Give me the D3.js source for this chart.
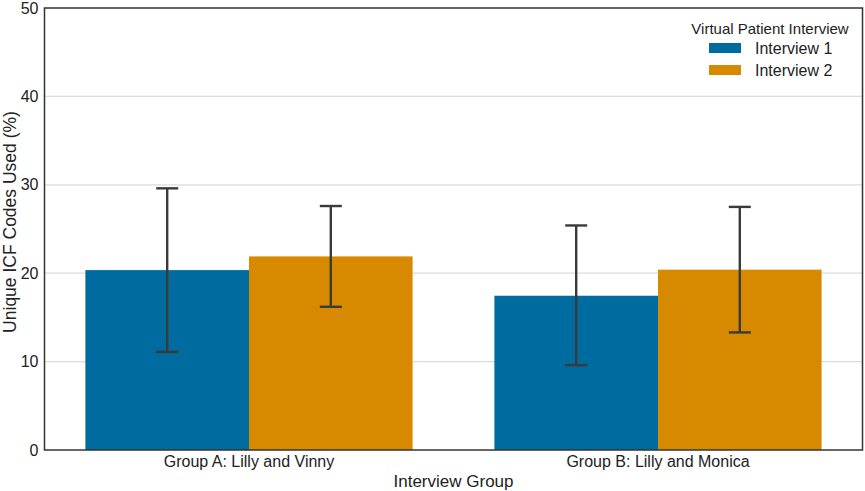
<!DOCTYPE html>
<html>
<head>
<meta charset="utf-8">
<script src="https://cdn.jsdelivr.net/npm/d3@7"></script>
<style>
  body { margin: 0; background: #fff; }
  text { font-family: "Liberation Sans", Arial, sans-serif; fill: #222; }
</style>
</head>
<body>
<div id="chart"></div>
<script>
// data
let groups = ["Group A: Lilly and Vinny", "Group B: Lilly and Monica"];
let seriesNames = ["Interview 1", "Interview 2"];
let interview1 = [20.35, 17.45];
let interview2 = [21.9, 20.4];
let interview1Low = [11.1, 9.6];
let interview1High = [29.6, 25.4];
let interview2Low = [16.2, 13.3];
let interview2High = [27.6, 27.5];
let yTicks = [0, 10, 20, 30, 40, 50];
let colors = ["#006b9e", "#d78a00"];

let svgWidth = 865;
let svgHeight = 491;
let margin = { top: 8, right: 2.5, bottom: 41, left: 44.5 };
let width = svgWidth - margin.left - margin.right;
let height = svgHeight - margin.top - margin.bottom;

let svg = d3.select("#chart").append("svg")
    .attr("width", svgWidth)
    .attr("height", svgHeight);

let chartGroup = svg.append("g")
    .attr("transform", `translate(${margin.left}, ${margin.top})`);

// build rows for drawing
let rows = [];
groups.forEach(function (g, i) {
    rows.push({ group: g, series: seriesNames[0], value: interview1[i], lo: interview1Low[i], hi: interview1High[i], c: colors[0] });
    rows.push({ group: g, series: seriesNames[1], value: interview2[i], lo: interview2Low[i], hi: interview2High[i], c: colors[1] });
});

// scales
let x0 = d3.scaleBand().domain(groups).range([0, width]).paddingInner(0.2).paddingOuter(0.1);
let x1 = d3.scaleBand().domain(seriesNames).range([0, x0.bandwidth()]);
let y = d3.scaleLinear().domain([0, 50]).range([height, 0]);

// gridlines
chartGroup.append("g")
    .selectAll("line")
    .data(yTicks.filter(d => d > 0 && d < 50))
    .enter().append("line")
    .attr("x1", 0).attr("x2", width)
    .attr("y1", d => y(d)).attr("y2", d => y(d))
    .attr("stroke", "#dcdcdc")
    .attr("stroke-width", 1.2);

// bars
chartGroup.selectAll("rect.bar")
    .data(rows)
    .enter().append("rect")
    .attr("class", "bar")
    .attr("x", d => x0(d.group) + x1(d.series))
    .attr("y", d => y(d.value))
    .attr("width", x1.bandwidth())
    .attr("height", d => height - y(d.value))
    .attr("fill", d => d.c);

// error bars
let errGroup = chartGroup.append("g").attr("stroke", "#3a3a3a").attr("stroke-width", 2.4);
rows.forEach(function (d) {
    let cx = x0(d.group) + x1(d.series) + x1.bandwidth() / 2;
    errGroup.append("line").attr("x1", cx).attr("x2", cx).attr("y1", y(d.lo)).attr("y2", y(d.hi));
    errGroup.append("line").attr("x1", cx - 11).attr("x2", cx + 11).attr("y1", y(d.lo)).attr("y2", y(d.lo));
    errGroup.append("line").attr("x1", cx - 11).attr("x2", cx + 11).attr("y1", y(d.hi)).attr("y2", y(d.hi));
});

// axes
let leftAxis = d3.axisLeft(y).tickValues(yTicks).tickSize(0).tickPadding(6);
let bottomAxis = d3.axisBottom(x0).tickSize(0).tickPadding(6);

let yAxisG = chartGroup.append("g").call(leftAxis);
yAxisG.select(".domain").remove();
yAxisG.selectAll("text").attr("font-size", "16px").style("font-family", "Liberation Sans, Arial, sans-serif").attr("fill", "#222");

let xAxisG = chartGroup.append("g").attr("transform", `translate(0, ${height})`).call(bottomAxis);
xAxisG.select(".domain").remove();
xAxisG.selectAll("text").attr("font-size", "16px").style("font-family", "Liberation Sans, Arial, sans-serif").attr("fill", "#222");

// frame
chartGroup.append("rect")
    .attr("x", 0).attr("y", 0)
    .attr("width", width).attr("height", height)
    .attr("fill", "none")
    .attr("stroke", "#333")
    .attr("stroke-width", 1.5);

// axis titles
chartGroup.append("text")
    .attr("transform", "rotate(-90)")
    .attr("x", -214)
    .attr("y", -margin.left + 15.5)
    .attr("text-anchor", "middle")
    .attr("font-size", "17.5px")
    .text("Unique ICF Codes Used (%)");

chartGroup.append("text")
    .attr("x", width / 2)
    .attr("y", height + 36.7)
    .attr("text-anchor", "middle")
    .attr("font-size", "17px")
    .text("Interview Group");

// legend
let legend = svg.append("g").attr("transform", "translate(709, 0)");
legend.append("text")
    .attr("x", 61).attr("y", 34)
    .attr("text-anchor", "middle")
    .attr("font-size", "15px")
    .text("Virtual Patient Interview");
seriesNames.forEach(function (s, i) {
    legend.append("rect")
        .attr("x", 0).attr("y", 43 + i * 22)
        .attr("width", 32).attr("height", 10)
        .attr("fill", colors[i]);
    legend.append("text")
        .attr("x", 46).attr("y", 54 + i * 22)
        .attr("font-size", "16px")
        .text(s);
});
</script>
</body>
</html>
